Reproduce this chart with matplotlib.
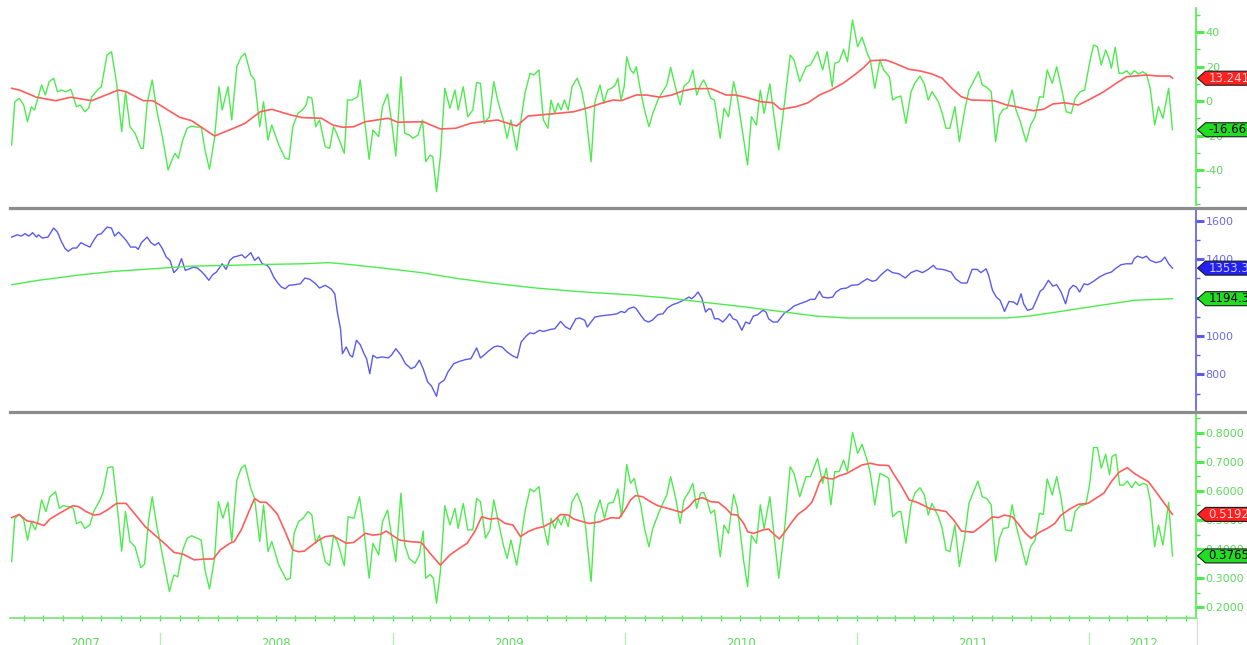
import numpy as np
import matplotlib
matplotlib.use("Agg")
import matplotlib.pyplot as plt
import matplotlib.dates as mdates
from matplotlib.lines import Line2D
from matplotlib.patches import Polygon
from matplotlib.ticker import MultipleLocator, FixedLocator, FormatStrFormatter
from matplotlib.transforms import IdentityTransform, blended_transform_factory

# weekly readings, positions given as days after the first week
START = np.datetime64("2007-05-11")

spread_days = [2, 7, 14, 21, 27, 33, 38, 49, 55, 61, 68, 74, 80, 87, 95, 104, 110, 117, 123, 128,
               137, 143, 152, 159, 167, 175, 181, 188, 196, 205, 209, 215, 223, 230, 239, 248, 254, 259, 264, 271,
               278, 285, 294, 300, 306, 313, 321, 328, 333, 342, 348, 356, 363, 369, 378, 384, 392, 398, 405, 411,
               422, 432, 438, 444, 452, 459, 465, 468, 474, 480, 486, 495, 502, 508, 513, 525, 530, 537, 546, 550,
               555, 564, 570, 579, 585, 593, 599, 606, 614, 620, 627, 633, 641, 648, 653, 660, 664, 670, 676, 683,
               691, 699, 704, 712, 719, 727, 733, 739, 745, 753, 760, 766, 775, 781, 787, 796, 802, 809, 817, 823,
               831, 838, 845, 850, 856, 861, 866, 871, 877, 883, 891, 898, 904, 913, 919, 927,
               933, 939, 945, 951, 955, 960, 965, 969, 975, 980, 984, 991, 997, 1004, 1010, 1018, 1024, 1032, 1038, 1046,
               1053, 1059, 1067, 1073, 1079, 1085, 1090, 1095, 1101, 1107, 1116, 1122, 1129, 1137, 1143, 1153, 1159, 1165, 1173, 1179,
               1185, 1194, 1200, 1208, 1217, 1226, 1232, 1241, 1251, 1258, 1269, 1277, 1284, 1292, 1296, 1303, 1310, 1316, 1324, 1332,
               1339, 1347, 1352, 1359, 1367, 1373, 1382, 1387, 1394, 1400, 1408, 1416, 1422, 1430, 1437, 1443, 1449, 1459, 1465, 1471,
               1477, 1485, 1492, 1500, 1507, 1514, 1522, 1528, 1535, 1542, 1549, 1555, 1561, 1567, 1575, 1581, 1587, 1597, 1604, 1611,
               1618, 1624, 1630, 1638, 1645, 1652, 1660, 1668, 1674, 1682, 1689, 1697, 1703, 1709, 1715, 1722, 1728, 1731, 1737, 1743,
               1749, 1755, 1761, 1767, 1774, 1780, 1786, 1792, 1799, 1805, 1812, 1821, 1827]
spread = [-25.5, -0.4, 1.6, -2.3, -12.0, -3.3, -5.2, 9.3, 3.5, 11.2, 13.2, 5.4, 6.4, 5.4, 6.8, -3.3, -2.3, -6.2, -4.2, 2.5,
          6.4, 8.3, 26.7, 28.6, 10.3, -17.8, 5.4, -14.9, -18.7, -27.4, -27.4, -1.3, 12.2, -5.2, -20.7, -40.0, -34.2, -30.3, -33.2, -22.6,
          -15.8, -14.5, -15.2, -14.9, -28.4, -39.6, -21.6, 8.3, -5.2, 8.3, -11.0, 19.9, 25.7, 27.7, 15.1, 12.2, -14.9, -0.4, -22.6, -13.9,
          -25.5, -33.2, -33.8, -14.9, -7.1, -5.2, -2.3, 2.5, 1.6, -14.9, -11.0, -26.5, -27.4, -14.9, -18.7, -30.3, 0.6, 0.6, 2.5, 12.2,
          -5.2, -33.8, -16.8, -20.7, -3.3, 4.1, -11.0, -31.9, 14.1, -18.7, -19.7, -21.6, -19.7, -11.0, -35.2, -31.3, -32.3, -52.6, -32.3, 7.4,
          -4.2, 6.4, -5.2, 8.3, -9.1, -5.2, 10.7, 10.3, -12.9, -9.1, 11.2, 0.6, -11.0, -21.6, -11.0, -28.4, -12.9, 4.5, 16.1, 15.1,
          18.0, -11.0, -15.8, 0.6, -7.1, -1.3, -5.2, 0.6, -5.2, 8.3, 13.2, 6.4, -5.2, -35.2, -0.4, 9.3,
          -1.3, 6.4, 7.4, 9.3, 13.2, 0.6, 8.3, 25.7, 18.0, 16.1, 19.9, 5.4, -5.2, -14.9, -7.1, 0.6, 4.5, 9.3, 19.6, 7.4,
          -2.3, 8.7, 11.2, 18.0, 3.5, 9.3, 12.2, 8.3, 1.6, 0.6, -21.6, -4.2, -9.1, 11.2, 1.6, -22.6, -37.1, -9.1, -13.9, 6.4,
          -7.1, 9.9, -7.1, -28.4, -1.3, 26.7, 23.8, 11.2, 19.9, 20.9, 28.6, 18.0, 28.6, 8.3, 21.9, 22.8, 30.0, 22.8, 47.0, 31.5,
          37.0, 27.7, 23.8, 7.4, 23.8, 18.0, 14.1, 0.6, 2.2, 2.9, -12.9, 5.4, 10.3, 14.5, 9.9, 0.6, 5.4, -0.4, -7.1, -15.8,
          -15.8, -3.3, -23.6, -6.2, 6.4, 11.2, 17.0, 9.3, 8.0, 5.4, -23.6, -8.1, -4.8, -4.2, 6.4, -5.2, -11.0, -23.6, -13.9, -9.1,
          2.5, 2.2, 18.0, 10.3, 19.9, 8.3, -6.2, -7.1, 1.6, 5.4, 6.4, 22.8, 32.5, 31.5, 20.9, 29.6, 23.8, 19.0, 31.2, 16.1,
          16.1, 17.6, 15.1, 17.6, 15.7, 17.0, 15.7, 7.4, -13.9, -3.3, -10.0, 7.4, -16.66]

spread_avg_days = [2, 14, 41, 71, 95, 128, 146, 170, 182, 209, 224, 266, 285, 321, 351, 369, 393, 411, 441, 459,
                   489, 507, 522, 540, 558, 594, 609, 649, 676, 700, 724, 742, 766, 796, 814, 850, 886, 911, 929, 948,
                   960, 984, 1000, 1021, 1040, 1058, 1076, 1101, 1113, 1125, 1140, 1156, 1180, 1199, 1211, 1235, 1254, 1272, 1290, 1309,
                   1327, 1342, 1352, 1376, 1388, 1413, 1431, 1449, 1465, 1480, 1495, 1511, 1547, 1566, 1581, 1608, 1624, 1639, 1657, 1679,
                   1697, 1719, 1737, 1755, 1786, 1804, 1823, 1827]
spread_avg = [7.4, 6.4, 2.2, 0.2, 2.2, 0.2, 2.9, 6.4, 5.4, 0.2, 0.2, -9.4, -11.4, -20.3, -15.8, -12.9, -6.2, -4.8, -8.1, -9.6,
              -10.0, -13.9, -15.2, -14.9, -12.0, -10.0, -12.3, -12.0, -16.2, -15.8, -12.9, -12.0, -11.0, -14.5, -8.7, -7.5, -6.2, -3.6, -1.3, 0.6,
              0.2, 3.5, 3.5, 2.2, 3.5, 6.0, 7.2, 7.2, 5.4, 3.5, 3.5, 2.2, -0.4, -1.0, -4.8, -3.3, -1.0, 3.5, 6.4, 10.3,
              15.1, 19.6, 23.4, 23.8, 22.3, 18.4, 17.4, 15.7, 13.2, 7.4, 2.5, 0.6, 0.2, -2.3, -3.3, -5.6, -4.8, -1.7, -1.0, -2.3,
              1.0, 5.4, 9.9, 14.1, 15.1, 14.5, 14.5, 13.241]

spx_days = [2, 11, 17, 23, 29, 35, 41, 44, 50, 59, 68, 74, 80, 86, 91, 98, 104, 111, 119, 125,
            131, 137, 143, 152, 159, 164, 170, 176, 182, 189, 197, 201, 206, 215, 221, 227, 233, 239, 245, 251,
            257, 263, 269, 275, 282, 288, 294, 300, 306, 312, 318, 324, 333, 339, 345, 351, 357, 364, 369, 378,
            384, 390, 396, 404, 408, 414, 420, 426, 432, 438, 447, 456, 463, 471, 480, 486, 495, 504, 510, 514,
            519, 522, 528, 534, 538, 544, 550, 556, 560, 565, 570, 576, 585, 594, 599, 606, 614, 621, 630, 636,
            643, 649, 656, 662, 670, 674, 682, 688, 697, 706, 715, 724, 733, 739, 743, 751, 760, 766, 773, 781,
            790, 797, 803, 811, 817, 823, 832, 838, 850, 856, 865, 873, 880, 889, 895, 903, 907, 913, 919, 927,
            936, 945, 954, 960, 966, 972, 980, 984, 991, 997, 1003, 1009, 1018, 1026, 1033, 1041, 1049, 1058, 1067, 1071,
            1076, 1081, 1087, 1093, 1098, 1102, 1107, 1113, 1120, 1125, 1131, 1136, 1142, 1150, 1156, 1162, 1168, 1175, 1183, 1188,
            1192, 1199, 1206, 1211, 1217, 1224, 1232, 1241, 1251, 1258, 1265, 1272, 1277, 1285, 1293, 1298, 1306, 1315, 1322, 1333,
            1339, 1347, 1355, 1361, 1369, 1379, 1387, 1397, 1407, 1416, 1425, 1434, 1443, 1451, 1456, 1465, 1471, 1479, 1486, 1495,
            1504, 1512, 1520, 1526, 1534, 1538, 1544, 1550, 1556, 1563, 1570, 1577, 1583, 1589, 1593, 1599, 1607, 1613, 1619, 1624,
            1632, 1639, 1645, 1652, 1659, 1665, 1671, 1676, 1681, 1688, 1694, 1703, 1712, 1722, 1731, 1737, 1746, 1754, 1763, 1767,
            1772, 1780, 1786, 1792, 1801, 1809, 1815, 1821, 1827]
spx = [1515, 1527, 1520, 1533, 1520, 1538, 1515, 1527, 1510, 1515, 1562, 1541, 1493, 1455, 1441, 1458, 1458, 1486, 1472, 1463,
       1498, 1527, 1533, 1567, 1562, 1520, 1541, 1520, 1498, 1463, 1463, 1451, 1486, 1515, 1486, 1472, 1486, 1455, 1411, 1394,
       1330, 1350, 1403, 1342, 1350, 1359, 1354, 1337, 1316, 1290, 1319, 1333, 1376, 1347, 1394, 1411, 1416, 1423, 1406, 1434,
       1394, 1411, 1376, 1368, 1350, 1307, 1278, 1255, 1246, 1264, 1267, 1272, 1302, 1295, 1272, 1250, 1264, 1246, 1220, 1125,
       1038, 908, 943, 900, 891, 978, 955, 908, 882, 804, 900, 886, 891, 886, 900, 934, 900, 856, 830, 839,
       874, 830, 761, 740, 686, 752, 770, 813, 856, 868, 877, 882, 938, 886, 896, 920, 943, 948, 943, 917,
       896, 886, 969, 1000, 1017, 1012, 1030, 1024, 1035, 1038, 1076, 1047, 1035, 1090, 1094, 1082, 1047, 1073, 1099, 1104,
       1108, 1111, 1116, 1128, 1122, 1142, 1151, 1142, 1108, 1082, 1073, 1082, 1111, 1116, 1146, 1163, 1172, 1186, 1203, 1194,
       1208, 1229, 1198, 1125, 1142, 1139, 1090, 1090, 1073, 1090, 1116, 1090, 1082, 1030, 1073, 1064, 1104, 1111, 1134, 1125,
       1090, 1073, 1073, 1094, 1120, 1134, 1156, 1168, 1180, 1191, 1191, 1233, 1203, 1198, 1203, 1229, 1246, 1250, 1264, 1267,
       1281, 1298, 1285, 1290, 1319, 1347, 1330, 1324, 1302, 1330, 1342, 1330, 1347, 1368, 1350, 1347, 1342, 1333, 1298, 1276,
       1276, 1347, 1347, 1330, 1350, 1316, 1238, 1203, 1186, 1128, 1180, 1177, 1163, 1220, 1168, 1134, 1142, 1186, 1233, 1246,
       1290, 1260, 1267, 1229, 1168, 1243, 1264, 1255, 1229, 1272, 1267, 1285, 1307, 1324, 1333, 1350, 1371, 1376, 1376, 1403,
       1416, 1406, 1416, 1394, 1382, 1389, 1411, 1376, 1353.39]

spx_avg_days = [2, 44, 104, 164, 224, 285, 345, 405, 459, 501, 525, 585, 646, 706, 766, 826, 886, 927, 972, 1033,
                1095, 1156, 1217, 1266, 1315, 1400, 1523, 1566, 1602, 1645, 1706, 1767, 1827]
spx_avg = [1267, 1290, 1316, 1337, 1350, 1364, 1368, 1373, 1376, 1382, 1375, 1354, 1330, 1298, 1272, 1250, 1233, 1224, 1215, 1198,
           1174, 1151, 1125, 1104, 1094, 1094, 1094, 1094, 1104, 1125, 1156, 1186, 1194.34]

bull_days = [2, 7, 14, 21, 27, 33, 39, 43, 49, 56, 62, 71, 77, 83, 92, 99, 104, 111, 117, 125,
             131, 141, 146, 153, 161, 167, 175, 181, 188, 196, 205, 211, 217, 223, 230, 239, 250, 257, 263, 271,
             278, 285, 294, 300, 306, 313, 321, 327, 334, 342, 348, 356, 363, 369, 378, 384, 392, 398, 405, 411,
             422, 434, 440, 446, 453, 460, 468, 474, 480, 486, 495, 502, 508, 514, 525, 531, 540, 549, 555, 564,
             570, 579, 585, 593, 599, 606, 614, 620, 627, 636, 643, 649, 653, 660, 665, 670, 676, 683, 691, 699,
             704, 712, 719, 727, 733, 739, 747, 754, 760, 766, 775, 781, 787, 796, 802, 809, 817, 823, 831, 838,
             845, 850, 856, 861, 866, 871, 877, 883, 891, 898, 904, 913, 919, 927,
             934, 940, 948, 955, 961, 969, 975, 981, 984, 991, 997, 1004, 1010, 1018, 1024, 1032, 1038, 1046, 1053, 1059,
             1067, 1073, 1079, 1085, 1090, 1095, 1101, 1107, 1116, 1122, 1129, 1137, 1143, 1153, 1159, 1165, 1173, 1179, 1185, 1194,
             1200, 1208, 1217, 1226, 1232, 1241, 1251, 1258, 1269, 1277, 1283, 1290, 1296, 1303, 1310, 1316, 1324, 1332, 1339, 1347,
             1352, 1359, 1367, 1375, 1381, 1387, 1396, 1400, 1408, 1416, 1422, 1430, 1437, 1443, 1449, 1459, 1465, 1471, 1477, 1485,
             1492, 1500, 1507, 1514, 1521, 1528, 1535, 1542, 1549, 1555, 1561, 1569, 1575, 1581, 1587, 1597, 1604, 1611, 1618, 1624,
             1630, 1638, 1645, 1652, 1659, 1668, 1674, 1682, 1691, 1697, 1703, 1709, 1715, 1722, 1728, 1732, 1738, 1744, 1750, 1756,
             1763, 1769, 1775, 1781, 1787, 1792, 1799, 1805, 1812, 1821, 1827]
bullish = [0.357, 0.506, 0.519, 0.500, 0.431, 0.494, 0.466, 0.494, 0.569, 0.529, 0.580, 0.597, 0.540, 0.549, 0.546, 0.540, 0.488, 0.494, 0.471, 0.483,
           0.529, 0.569, 0.597, 0.680, 0.683, 0.569, 0.393, 0.529, 0.426, 0.408, 0.336, 0.348, 0.494, 0.580, 0.483, 0.380, 0.254, 0.311, 0.305, 0.397,
           0.437, 0.446, 0.437, 0.431, 0.328, 0.263, 0.368, 0.563, 0.506, 0.561, 0.426, 0.637, 0.678, 0.689, 0.609, 0.574, 0.426, 0.552, 0.391, 0.426,
           0.345, 0.294, 0.300, 0.454, 0.494, 0.506, 0.529, 0.517, 0.420, 0.448, 0.357, 0.343, 0.448, 0.426, 0.343, 0.511, 0.506, 0.580, 0.483, 0.300,
           0.420, 0.380, 0.494, 0.534, 0.448, 0.357, 0.592, 0.414, 0.368, 0.351, 0.380, 0.462, 0.300, 0.313, 0.300, 0.214, 0.322, 0.549, 0.483, 0.540,
           0.471, 0.557, 0.466, 0.466, 0.574, 0.563, 0.437, 0.466, 0.569, 0.506, 0.414, 0.368, 0.431, 0.345, 0.426, 0.529, 0.607, 0.597, 0.615, 0.483,
           0.414, 0.506, 0.471, 0.506, 0.483, 0.517, 0.477, 0.563, 0.592, 0.552, 0.483, 0.288, 0.517, 0.569,
           0.506, 0.557, 0.561, 0.607, 0.511, 0.691, 0.626, 0.643, 0.609, 0.552, 0.471, 0.408, 0.471, 0.517, 0.549, 0.586, 0.649, 0.574, 0.488, 0.569,
           0.597, 0.626, 0.540, 0.592, 0.595, 0.569, 0.523, 0.534, 0.374, 0.483, 0.454, 0.588, 0.540, 0.357, 0.271, 0.448, 0.420, 0.552, 0.471, 0.580,
           0.460, 0.300, 0.466, 0.683, 0.660, 0.580, 0.649, 0.649, 0.712, 0.626, 0.678, 0.552, 0.666, 0.666, 0.706, 0.666, 0.801, 0.729, 0.760, 0.706,
           0.660, 0.552, 0.660, 0.652, 0.643, 0.511, 0.529, 0.529, 0.420, 0.552, 0.592, 0.611, 0.586, 0.517, 0.557, 0.511, 0.471, 0.397, 0.391, 0.483,
           0.340, 0.437, 0.557, 0.595, 0.634, 0.580, 0.574, 0.552, 0.357, 0.437, 0.471, 0.474, 0.552, 0.483, 0.431, 0.345, 0.408, 0.431, 0.523, 0.519,
           0.641, 0.586, 0.649, 0.574, 0.466, 0.462, 0.529, 0.549, 0.554, 0.626, 0.749, 0.749, 0.678, 0.726, 0.655, 0.718, 0.726, 0.620, 0.620, 0.634,
           0.611, 0.632, 0.618, 0.626, 0.620, 0.569, 0.408, 0.483, 0.414, 0.561, 0.3765]

bull_avg_days = [2, 14, 26, 35, 53, 62, 74, 86, 98, 107, 119, 131, 140, 152, 167, 182, 197, 212, 230, 242,
                 257, 272, 289, 306, 319, 330, 345, 352, 363, 375, 384, 393, 402, 411, 420, 432, 444, 453, 462, 471,
                 483, 495, 507, 516, 528, 540, 558, 570, 582, 591, 600, 612, 627, 646, 660, 676, 691, 706, 718, 730,
                 741, 754, 766, 778, 790, 802, 814, 826, 838, 853, 865, 877, 886, 910, 927,
                 933, 945, 957, 966, 975, 983, 994, 1006, 1018, 1030, 1043, 1055, 1067, 1076, 1088, 1101, 1113, 1125, 1134, 1143,
                 1153, 1159, 1168, 1174, 1183, 1192, 1202, 1209, 1220, 1229, 1238, 1251, 1260, 1266, 1272, 1278, 1284, 1293, 1303, 1315,
                 1327, 1339, 1352, 1364, 1381, 1388, 1400, 1413, 1425, 1437, 1446, 1459, 1471, 1483, 1495, 1514, 1529, 1544, 1553, 1563,
                 1575, 1584, 1596, 1605, 1618, 1630, 1642, 1651, 1663, 1679, 1694, 1706, 1719, 1731, 1743, 1756, 1767, 1780, 1789, 1801,
                 1813, 1827]
bull_avg = [0.508, 0.519, 0.497, 0.494, 0.481, 0.503, 0.519, 0.534, 0.549, 0.546, 0.529, 0.517, 0.519, 0.534, 0.557, 0.557, 0.517, 0.477, 0.443, 0.420,
            0.389, 0.382, 0.363, 0.366, 0.366, 0.397, 0.420, 0.426, 0.466, 0.529, 0.574, 0.561, 0.561, 0.542, 0.519, 0.460, 0.397, 0.391, 0.393, 0.408,
            0.428, 0.443, 0.446, 0.435, 0.420, 0.423, 0.454, 0.448, 0.451, 0.462, 0.448, 0.431, 0.426, 0.423, 0.385, 0.345, 0.380, 0.403, 0.420, 0.460,
            0.511, 0.503, 0.506, 0.488, 0.483, 0.443, 0.460, 0.471, 0.477, 0.494, 0.519, 0.517, 0.503, 0.488, 0.494,
            0.500, 0.508, 0.506, 0.534, 0.569, 0.584, 0.580, 0.563, 0.549, 0.542, 0.534, 0.526, 0.546, 0.569, 0.577, 0.563, 0.561, 0.540, 0.519, 0.517,
            0.488, 0.460, 0.454, 0.458, 0.466, 0.469, 0.448, 0.435, 0.466, 0.494, 0.519, 0.540, 0.561, 0.592, 0.629, 0.649, 0.643, 0.641, 0.652, 0.660,
            0.675, 0.689, 0.695, 0.689, 0.687, 0.660, 0.620, 0.569, 0.561, 0.549, 0.538, 0.534, 0.529, 0.500, 0.462, 0.458, 0.483, 0.511, 0.508, 0.517,
            0.511, 0.488, 0.454, 0.437, 0.458, 0.471, 0.488, 0.515, 0.534, 0.554, 0.557, 0.574, 0.592, 0.632, 0.664, 0.680, 0.660, 0.643, 0.632, 0.597,
            0.561, 0.5192]

years = [2007, 2008, 2009, 2010, 2011, 2012]
spread_ticks = [-40, -20, 0, 20, 40]

GREEN = "#4cec4c"
LABEL_GREEN = "#5adc5a"
RED = "#ff5c5c"
BLUE = "#5a5af0"
LABEL_BLUE = "#6a6aee"

W, H = 1247, 645
fig = plt.figure(figsize=(W / 100, H / 100), dpi=100)
fig.patch.set_facecolor("white")


def panel(top, bottom):
    return fig.add_axes([10 / W, 1 - bottom / H, 1186 / W, (bottom - top) / H])


def dates(days):
    return START + np.array(days).astype("timedelta64[D]")


ax1 = panel(0, 205)
ax2 = panel(210, 410)
ax3 = panel(413, 618)

t0 = mdates.date2num(START)
for ax, color, lcolor in [(ax1, GREEN, LABEL_GREEN), (ax2, BLUE, LABEL_BLUE), (ax3, GREEN, LABEL_GREEN)]:
    ax.set_xlim(t0 - 0.6, t0 + 1864)
    ax.set_facecolor("none")
    for side in ["left", "top", "bottom"]:
        ax.spines[side].set_visible(False)
    ax.spines["right"].set_color(color)
    ax.spines["right"].set_linewidth(1.2)
    ax.yaxis.tick_right()
    ax.tick_params(axis="y", which="major", direction="out", length=6, width=2.2,
                   colors=color, labelcolor=lcolor, labelsize=8, pad=1)
    ax.tick_params(axis="y", which="minor", direction="out", length=3, width=1, colors=color)
    ax.tick_params(axis="x", which="both", bottom=False, labelbottom=False)

# sentiment spread and its average
ax1.plot(dates(spread_days), spread, color=GREEN, lw=1.0)
ax1.plot(dates(spread_avg_days), spread_avg, color=RED, lw=1.2)
ax1.set_ylim(-60.3, 58.6)
ax1.spines["right"].set_bounds(-60.3, 54)
ax1.yaxis.set_major_locator(FixedLocator(spread_ticks))
ax1.yaxis.set_minor_locator(MultipleLocator(10))
ax1.yaxis.set_major_formatter(FormatStrFormatter("%d"))

# index and its long average
ax2.plot(dates(spx_days), spx, color=BLUE, lw=1.0)
ax2.plot(dates(spx_avg_days), spx_avg, color=GREEN, lw=1.0)
ax2.set_ylim(615, 1656)
ax2.yaxis.set_major_locator(MultipleLocator(200))
ax2.yaxis.set_minor_locator(MultipleLocator(100))
ax2.yaxis.set_major_formatter(FormatStrFormatter("%d"))

# bullish share and its average
ax3.plot(dates(bull_days), bullish, color=GREEN, lw=1.0)
ax3.plot(dates(bull_avg_days), bull_avg, color=RED, lw=1.2)
ax3.set_ylim(0.1632, 0.8677)
ax3.yaxis.set_major_locator(MultipleLocator(0.1))
ax3.yaxis.set_minor_locator(MultipleLocator(0.05))
ax3.yaxis.set_major_formatter(FormatStrFormatter("%.4f"))

# time axis: month ticks, year separators and centred year labels
ax3.spines["bottom"].set_visible(True)
ax3.spines["bottom"].set_color("#7ee87e")
ax3.spines["bottom"].set_linewidth(1.3)
ax3.xaxis.set_major_locator(mdates.MonthLocator())
ax3.tick_params(axis="x", which="major", bottom=True, direction="inout", length=4,
                width=1, color=GREEN, labelbottom=False)
trans = blended_transform_factory(ax3.transData, ax3.transAxes)
x_lo, x_hi = ax3.get_xlim()
for yr in years:
    a = mdates.date2num(np.datetime64(f"{yr}-01-01"))
    b = mdates.date2num(np.datetime64(f"{yr + 1}-01-01"))
    if a > x_lo:
        ax3.plot([a, a], [-0.072, -0.13], transform=trans, color="#b4f0b4", lw=1, clip_on=False)
    mid = (max(a, x_lo) + min(b, x_hi)) / 2
    ax3.text(mid, -0.093, str(yr), transform=trans, ha="center", va="top",
             fontsize=8.5, color=LABEL_GREEN, clip_on=False)

# grey panel dividers
for y in [207.5, 411.5]:
    fig.add_artist(Line2D([10 / W, 1], [1 - y / H, 1 - y / H], color="#8c8c8c", lw=2.3))
fig.add_artist(Line2D([1196.5 / W, 1196.5 / W], [0, 1 - 618 / H], color="#dcdcdc", lw=1))


def value_tag(ax, value, label, face, text_color):
    x0, y0 = ax.transData.transform((ax.get_xlim()[1], value))
    x0 += 1.5
    h = 7
    verts = [(x0, y0), (x0 + 8, y0 + h), (W + 20, y0 + h), (W + 20, y0 - h), (x0 + 8, y0 - h)]
    fig.add_artist(Polygon(verts, closed=True, transform=IdentityTransform(),
                           facecolor=face, edgecolor="#1c1c1c", lw=0.8))
    fig.text(x0 + 11, y0, label, transform=IdentityTransform(), color=text_color,
             fontsize=8.5, ha="left", va="center")


value_tag(ax1, spread_avg[-1], f"{spread_avg[-1]:.4f}", "#ff2020", "#ffd0d0")
value_tag(ax1, spread[-1], f"{spread[-1]:.4f}", "#22dd22", "#000000")
value_tag(ax2, spx[-1], f"{spx[-1]:.2f}", "#2222ee", "#c8c8ff")
value_tag(ax2, spx_avg[-1], f"{spx_avg[-1]:.2f}", "#22dd22", "#000000")
value_tag(ax3, bull_avg[-1], f"{bull_avg[-1]:.4f}", "#ff2020", "#ffd0d0")
value_tag(ax3, bullish[-1], f"{bullish[-1]:.4f}", "#22dd22", "#000000")

fig.savefig("out.png", dpi=100)
